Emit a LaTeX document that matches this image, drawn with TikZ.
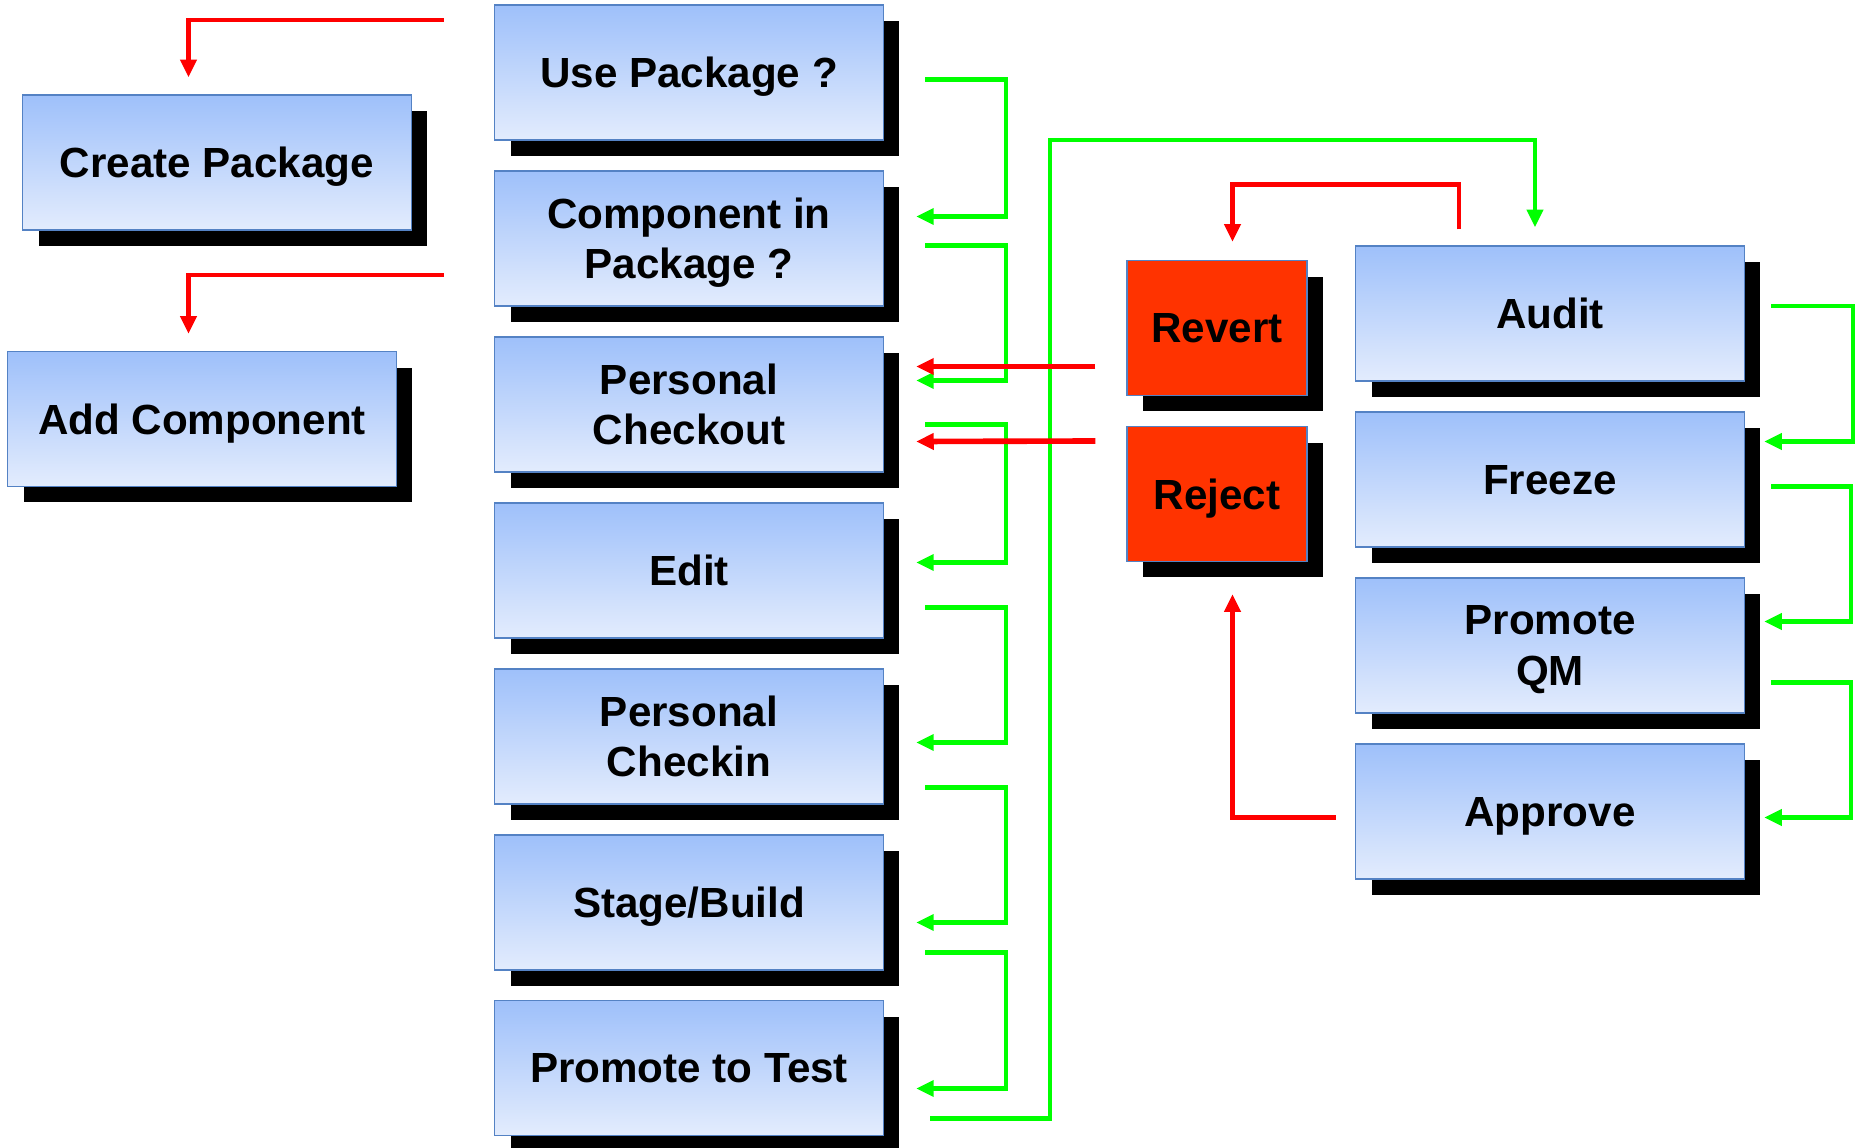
\documentclass[tikz,border=0pt]{standalone}
\usepackage{fontspec}
\setmainfont{Liberation Sans}
\usetikzlibrary{arrows.meta,shadows,calc}
\definecolor{boxtop}{RGB}{158,192,250}
\definecolor{boxmid}{RGB}{198,216,251}
\definecolor{boxbot}{RGB}{227,236,253}
\definecolor{boxline}{RGB}{84,130,196}
\definecolor{stopred}{RGB}{255,51,0}
\definecolor{gogreen}{RGB}{0,255,0}
\definecolor{nored}{RGB}{255,0,0}

\begin{document}
\begin{tikzpicture}[x=0.02cm, y=-0.02cm,
  boxbase/.style={draw=boxline, line width=0.8pt, minimum height=2.7cm, inner sep=0pt,
    align=center, text depth=0pt, font=\bfseries\fontsize{24}{28.5}\selectfont,
    general shadow={fill=black, shadow xshift=0.32cm, shadow yshift=-0.32cm}},
  stepbox/.style={boxbase, top color=boxtop, middle color=boxmid, bottom color=boxbot, minimum width=7.78cm},
  stopbox/.style={boxbase, fill=stopred, minimum width=3.6cm},
  ok/.style={draw=gogreen, line width=2.3pt, -{Triangle[length=10pt, width=9pt]}},
  no/.style={draw=nored, line width=2.6pt, -{Triangle[length=10pt, width=9pt]}}]
  \useasboundingbox (0,0) rectangle (1860,1148);

  % left column
  \node[stepbox] (create) at (217,162.5) {Create Package};
  \node[stepbox] (addc) at (202,419) {Add Component};

  % middle column
  \node[stepbox] (use) at (689,72.5) {Use Package ?};
  \node[stepbox] (inpkg) at (689,238.5) {Component in\\Package ?};
  \node[stepbox] (checkout) at (689,404.5) {Personal\\Checkout};
  \node[stepbox] (edit) at (689,570.5) {Edit};
  \node[stepbox] (checkin) at (689,736.5) {Personal\\Checkin};
  \node[stepbox] (stage) at (689,902.5) {Stage/Build};
  \node[stepbox] (promote) at (689,1068) {Promote to Test};

  % right column
  \node[stopbox] (revert) at (1217,328) {Revert};
  \node[stopbox] (reject) at (1217,494) {Reject};
  \node[stepbox] (audit) at (1550,313.5) {Audit};
  \node[stepbox] (freeze) at (1550,479.5) {Freeze};
  \node[stepbox] (qm) at (1550,645.5) {Promote\\QM};
  \node[stepbox] (approve) at (1550,811.5) {Approve};

  % green: next step
  \draw[ok] ($(use.east)+(41,7)$) -- ++(81,0) |- ($(inpkg.east)+(32,-22)$);
  \draw[ok] ($(inpkg.east)+(41,7)$) -- ++(81,0) |- ($(checkout.east)+(32,-24)$);
  \draw[ok] ($(checkout.east)+(41,20)$) -- ++(81,0) |- ($(edit.east)+(32,-8)$);
  \draw[ok] ($(edit.east)+(41,37)$) -- ++(81,0) |- ($(checkin.east)+(32,6)$);
  \draw[ok] ($(checkin.east)+(41,51)$) -- ++(81,0) |- ($(stage.east)+(32,20)$);
  \draw[ok] ($(stage.east)+(41,50)$) -- ++(81,0) |- ($(promote.east)+(32,20.5)$);
  \draw[ok] ($(promote.east)+(46,50.5)$) -| (1050,140) -| ($(audit.north)+(-15,-18)$);
  \draw[ok] ($(audit.east)+(26,-7.5)$) -- ++(82,0) |- ($(freeze.east)+(19,-38)$);
  \draw[ok] ($(freeze.east)+(26,7)$) -- ++(80,0) |- ($(qm.east)+(19,-24)$);
  \draw[ok] ($(qm.east)+(26,37)$) -- ++(80,0) |- ($(approve.east)+(19,6)$);

  % red: go back
  \draw[no] ($(use.west)+(-50,-52.5)$) -| ($(create.north)+(-28.5,-17)$);
  \draw[no] ($(inpkg.west)+(-50,36.5)$) -| ($(addc.north)+(-13.5,-17)$);
  \draw[no, line width=3.2pt] ($(revert.west)+(-31,38.5)$) -- ($(checkout.east)+(32,-38)$);
  \draw[no, line width=3.2pt] ($(reject.west)+(-31,-53)$) -- ($(checkout.east)+(32,37)$);
  \draw[no] ($(audit.north)+(-91,-16)$) -- ++(0,-45) -| ($(revert.north)+(15.5,-18)$);
  \draw[no] ($(approve.west)+(-19,6)$) -| ($(reject.south)+(15.5,32)$);
\end{tikzpicture}
\end{document}
